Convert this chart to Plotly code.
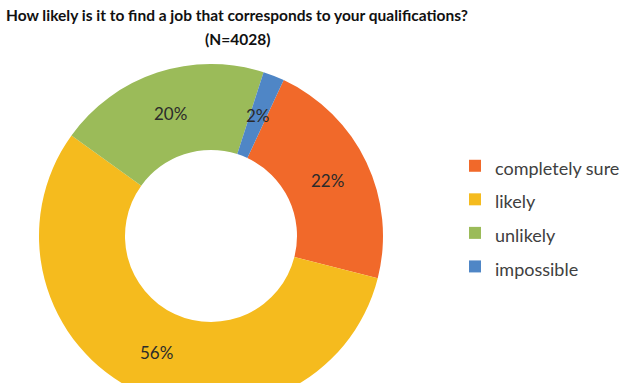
import math
import plotly.graph_objects as go

# Survey answers and their shares (percent of N=4028 respondents)
categories = ["completely sure", "likely", "unlikely", "impossible"]
shares = [22, 56, 20, 2]
colors = ["#F1692A", "#F5BB1E", "#9BBB59", "#4F86C6"]
title_lines = [
    "How likely is it to find a job that corresponds to your qualifications?",
    "(N=4028)",
]

W, H = 626, 420           # page is cropped to 383 px tall by the viewer
CX, CY, R = 211, 236, 172  # donut centre and outer radius in pixels
HOLE = 0.5
START = 25                # first slice starts 25 degrees clockwise from 12 o'clock

fig = go.Figure(
    go.Pie(
        labels=[f'<span style="font-size:18px">{c}</span>' for c in categories],
        values=shares,
        hole=HOLE,
        sort=False,
        direction="clockwise",
        rotation=START,
        marker=dict(colors=colors, line=dict(width=0)),
        textinfo="none",
        domain=dict(x=[(CX - R) / W, (CX + R) / W], y=[1 - (CY + R) / H, 1 - (CY - R) / H]),
        hovertemplate="%{value}%<extra></extra>",
    )
)

# percentage labels at the middle of the ring of each slice
total = sum(shares)
acc = 0.0
r_mid = R * (1 + HOLE) / 2
for v in shares:
    mid = math.radians(START + (acc + v / 2) / total * 360)
    acc += v
    x = CX + r_mid * math.sin(mid)
    y = CY - r_mid * math.cos(mid)
    fig.add_annotation(
        x=x / W, y=1 - y / H, xref="paper", yref="paper",
        xanchor="center", yanchor="middle",
        text=f"{v}%", showarrow=False,
        font=dict(family="Lato", size=17, color="#2B2B2B"),
    )

# two-line bold title
for line, ypx in zip(title_lines, [15, 39]):
    fig.add_annotation(
        x=237 / W, y=1 - ypx / H, xref="paper", yref="paper",
        xanchor="center", yanchor="middle", showarrow=False,
        text=f"<b>{line}</b>",
        font=dict(family="Lato", size=15.5, color="#111111"),
    )

fig.update_layout(
    width=W,
    height=H,
    margin=dict(l=0, r=0, t=0, b=0),
    paper_bgcolor="white",
    plot_bgcolor="white",
    showlegend=True,
    legend=dict(
        x=455 / W,
        y=1 - 144 / H,
        xanchor="left",
        yanchor="top",
        font=dict(family="Lato", size=23.5, color="#404040"),
        bgcolor="rgba(0,0,0,0)",
    ),
)

fig.write_html(
    "out.html",
    post_script="document.body.style.overflow='hidden';document.body.style.margin='0';",
)
